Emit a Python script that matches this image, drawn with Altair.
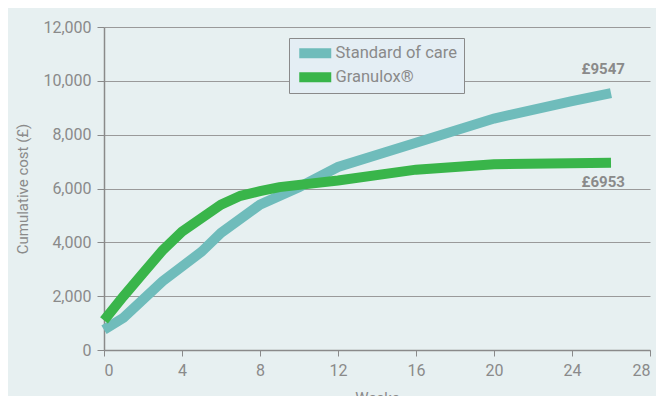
import altair as alt
import pandas as pd

weeks_soc = [0, 1, 3, 5, 6, 8, 10, 12, 16, 20, 24, 26]
cost_soc = [750, 1200, 2550, 3650, 4350, 5400, 6050, 6800, 7700, 8600, 9250, 9547]
weeks_gr = [0, 1, 2, 3, 4, 5, 6, 7, 8, 9, 12, 16, 20, 26]
cost_gr = [1100, 2000, 2850, 3700, 4400, 4900, 5400, 5730, 5900, 6050, 6300, 6700, 6900, 6953]
series = ["Standard of care", "Granulox®"]
colors = ["#6fbcbb", "#39b54a"]
labels = ["£9547", "£6953"]
label_week = [25.6, 25.6]
label_cost = [10450, 6250]

rows = []
for w, c in zip(weeks_soc, cost_soc):
    rows.append({"week": w, "cost": c, "series": series[0]})
for w, c in zip(weeks_gr, cost_gr):
    rows.append({"week": w, "cost": c, "series": series[1]})
df = pd.DataFrame(rows)
lab = pd.DataFrame({"week": label_week, "cost": label_cost, "text": labels})

FONT = "Roboto"
GRAY = "#8a8a8a"

x = alt.X("week:Q", title="Weeks",
          scale=alt.Scale(domain=[0, 28], nice=False),
          axis=alt.Axis(values=list(range(0, 29, 4)), grid=False, tickSize=6,
                        labelPadding=6, titlePadding=12))
y = alt.Y("cost:Q", title="Cumulative cost (£)",
          scale=alt.Scale(domain=[0, 12000], nice=False),
          axis=alt.Axis(values=list(range(0, 12001, 2000)), format=",d", tickSize=7,
                        labelPadding=6, titlePadding=12, gridColor="#9a9a9a"))

cscale = alt.Scale(domain=series, range=colors)

lines = alt.Chart(df).mark_line(strokeWidth=10, strokeCap="butt", strokeJoin="miter").encode(
    x=x, y=y,
    color=alt.Color("series:N", scale=cscale, sort=series, legend=None),
)

legend_layer = alt.Chart(df).mark_point(filled=True, size=0, strokeWidth=0).encode(
    x="week:Q", y="cost:Q",
    color=alt.Color("series:N", scale=cscale, sort=series,
                    legend=alt.Legend(title=None, orient="none", legendX=185, legendY=11,
                                      fillColor="#e4eef4", strokeColor=GRAY, padding=7,
                                      symbolType="M-1,-1H5.4V1H-1Z", symbolStrokeWidth=0,
                                      symbolSize=100, symbolOpacity=1,
                                      labelFontSize=16.5, labelColor=GRAY, labelFont=FONT,
                                      rowPadding=7, labelOffset=23)),
)

texts = alt.Chart(lab).mark_text(fontSize=15, fontWeight="bold", color=GRAY, font=FONT).encode(
    x="week:Q", y="cost:Q", text="text:N")

chart = alt.layer(lines, texts, legend_layer).resolve_legend(color="independent").properties(
    width=546, height=323,
    background="#e7f0f1",
    padding={"left": 96, "top": 19, "right": 6, "bottom": 46},
    autosize=alt.AutoSizeParams(type="none"),
).configure_view(stroke=None).configure_axis(
    labelFont=FONT, titleFont=FONT, labelFontSize=16, titleFontSize=15,
    labelColor=GRAY, titleColor=GRAY, titleFontWeight="normal",
    domainColor=GRAY, tickColor=GRAY, domainWidth=1.5,
)

chart.save("out.html", embed_options={"renderer": "svg", "actions": False})
